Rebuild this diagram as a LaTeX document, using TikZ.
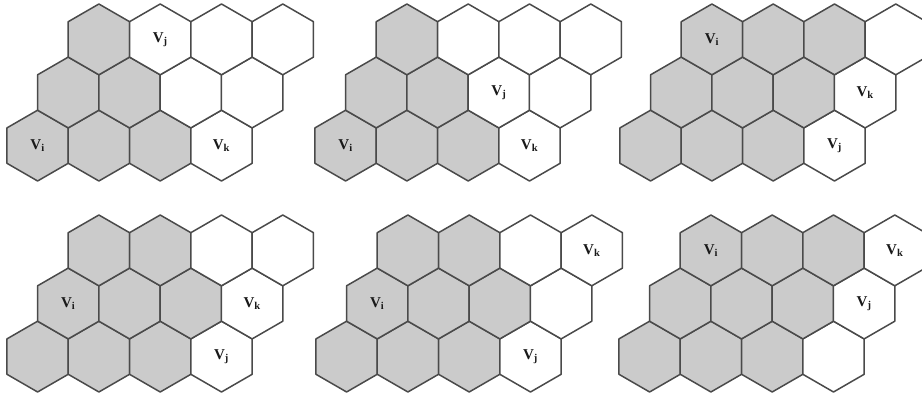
\documentclass[tikz,border=0pt]{standalone}
\usepackage{fontspec}
\newfontfamily\lblfont{Liberation Serif}
\usepackage{tikz}
\definecolor{linegray}{HTML}{4A4A4A}
\definecolor{cellgray}{HTML}{CBCBCB}
\tikzset{
  hexcell/.style={draw=linegray, line width=1.5pt, line join=round},
  shaded/.style={hexcell, fill=cellgray},
  blank/.style={hexcell, fill=white},
  lbl/.style={font=\lblfont\fontsize{15}{15}\selectfont\bfseries, text=black!90, inner sep=0pt}
}
\newcommand{\hexW}{61.3}
\newcommand{\hexH}{53.1}
\newcommand{\hexS}{35.4pt}
\newcommand{\hexgrid}[3]{%
  \foreach \r/\g in {0/#1,1/#2,2/#3}{%
    \foreach \c in {0,...,3}{%
      \ifnum\c<\g\relax\def\cellstyle{shaded}\else\def\cellstyle{blank}\fi
      \draw[\cellstyle] ({(\c+\r/2)*\hexW pt},{\r*\hexH pt})
        +(90:\hexS) -- +(30:\hexS) -- +(-30:\hexS) -- +(-90:\hexS)
        -- +(-150:\hexS) -- +(150:\hexS) -- cycle;
    }%
  }%
}
\newcommand{\hexlabel}[4]{% name, row, col, subscript
  \node[lbl] (#1) at ({(#3+#2/2)*\hexW pt},{#2*\hexH pt}) {V\textsubscript{#4}};
}
\begin{document}
\begin{tikzpicture}
\useasboundingbox (0,0) rectangle (922pt,395pt);
\fill[white] (0,0) rectangle (922pt,395pt);
% panel 1
\begin{scope}[shift={(37.6pt,249.4pt)}]
  \hexgrid{3}{2}{1}
  \hexlabel{pai}{0}{0}{i}
  \hexlabel{paj}{2}{1}{j}
  \hexlabel{pak}{0}{3}{k}
\end{scope}
% panel 2
\begin{scope}[shift={(345.6pt,249.4pt)}]
  \hexgrid{3}{2}{1}
  \hexlabel{pbi}{0}{0}{i}
  \hexlabel{pbj}{1}{2}{j}
  \hexlabel{pbk}{0}{3}{k}
\end{scope}
% panel 3
\begin{scope}[shift={(650.6pt,249.4pt)}]
  \hexgrid{3}{3}{3}
  \hexlabel{pci}{2}{0}{i}
  \hexlabel{pck}{1}{3}{k}
  \hexlabel{pcj}{0}{3}{j}
\end{scope}
% panel 4
\begin{scope}[shift={(37.6pt,38.4pt)}]
  \hexgrid{3}{3}{2}
  \hexlabel{pdi}{1}{0}{i}
  \hexlabel{pdk}{1}{3}{k}
  \hexlabel{pdj}{0}{3}{j}
\end{scope}
% panel 5
\begin{scope}[shift={(346.6pt,38.4pt)}]
  \hexgrid{3}{3}{2}
  \hexlabel{pei}{1}{0}{i}
  \hexlabel{pek}{2}{3}{k}
  \hexlabel{pej}{0}{3}{j}
\end{scope}
% panel 6
\begin{scope}[shift={(649.6pt,38.4pt)}]
  \hexgrid{3}{3}{3}
  \hexlabel{pfi}{2}{0}{i}
  \hexlabel{pfk}{2}{3}{k}
  \hexlabel{pfj}{1}{3}{j}
\end{scope}
\end{tikzpicture}
\end{document}
